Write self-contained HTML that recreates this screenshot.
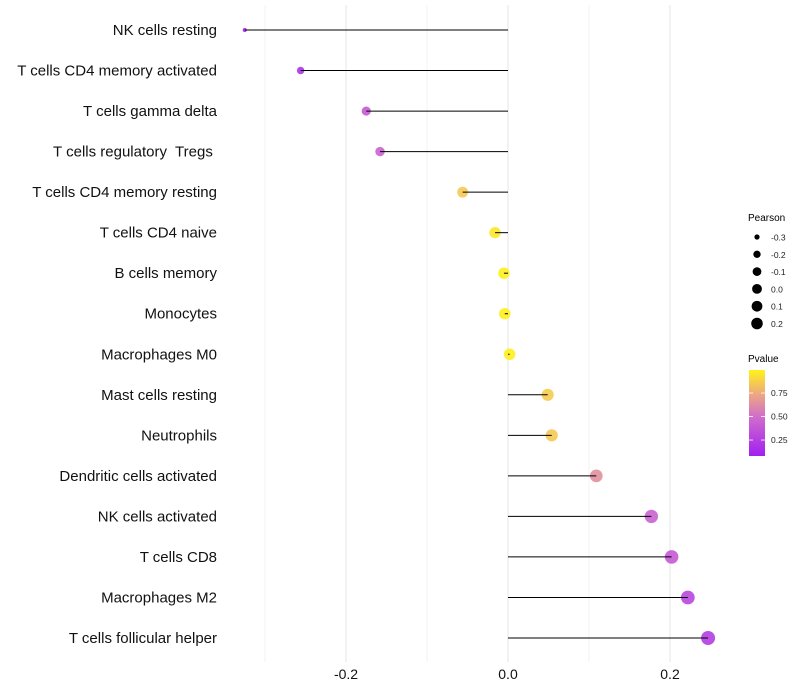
<!DOCTYPE html>
<html><head><meta charset="utf-8"><style>
html,body{margin:0;padding:0;background:#fff;}
svg{display:block;font-family:"Liberation Sans",sans-serif;}
text{white-space:pre;}
</style></head><body>
<svg id="chart" width="800" height="700">
<defs>
<linearGradient id="pg" x1="0" y1="1" x2="0" y2="0">
<stop offset="0" stop-color="#a21ff0"/>
<stop offset="0.45" stop-color="#d06ccc"/>
<stop offset="0.72" stop-color="#eda880"/>
<stop offset="1" stop-color="#fff318"/>
</linearGradient>
</defs>
</svg>
<script>
const categories=["NK cells resting","T cells CD4 memory activated","T cells gamma delta","T cells regulatory  Tregs ","T cells CD4 memory resting","T cells CD4 naive","B cells memory","Monocytes","Macrophages M0","Mast cells resting","Neutrophils","Dendritic cells activated","NK cells activated","T cells CD8","Macrophages M2","T cells follicular helper"];
const pearson=[-0.325,-0.256,-0.175,-0.158,-0.056,-0.016,-0.005,-0.004,0.002,0.049,0.054,0.109,0.177,0.202,0.222,0.247];
const pvalue=[0.1,0.2,0.4,0.45,0.86,0.96,0.99,0.99,0.99,0.87,0.86,0.65,0.45,0.4,0.3,0.25];
const xTicks=[-0.2,0.0,0.2];
const sizeLegend=[-0.3,-0.2,-0.1,0.0,0.1,0.2];
const pTicks=[0.75,0.5,0.25];

const svg=document.getElementById('chart');
const NS='http://www.w3.org/2000/svg';
function el(t,a,p){const e=document.createElementNS(NS,t);for(const k in a)e.setAttribute(k,a[k]);(p||svg).appendChild(e);return e;}
const xS=v=>508+v*810;
const yS=i=>30+i*(608/15);
const rS=v=>2+5*Math.sqrt(Math.max(0,(v+0.325)/0.572));
function col(p){
 const stops=[[0.09,[162,31,240]],[0.5,[208,108,204]],[0.75,[237,168,128]],[1.0,[255,243,24]]];
 if(p<=stops[0][0])return 'rgb('+stops[0][1]+')';
 for(let i=1;i<stops.length;i++){if(p<=stops[i][0]){const t=(p-stops[i-1][0])/(stops[i][0]-stops[i-1][0]);const a=stops[i-1][1],b=stops[i][1];return 'rgb('+a.map((c,j)=>Math.round(c+(b[j]-c)*t)).join(',')+')';}}
 return 'rgb(255,243,24)';
}
[-0.3,-0.1,0.1].forEach(v=>{const g=el('line',{x1:xS(v),x2:xS(v),y1:5,y2:662,stroke:'#f3f3f3','stroke-width':1});

});
xTicks.forEach(v=>{const g=el('line',{x1:xS(v),x2:xS(v),y1:5,y2:662,stroke:'#ebebeb','stroke-width':1.3});


const t=el('text',{x:xS(v),y:679,'text-anchor':'middle','font-size':14,fill:'#111'});t.textContent=v.toFixed(1);

});
categories.forEach((c,i)=>{
 const y=yS(i);
 const t=el('text',{x:217,y:y+5,'text-anchor':'end','font-size':15,fill:'#111'});t.textContent=c;
 
 
 const ci=el('circle',{cx:xS(pearson[i]),cy:y,r:rS(pearson[i]),fill:col(pvalue[i]),'fill-opacity':0.9});
 
 
 const l=el('line',{x1:xS(0),x2:xS(pearson[i]),y1:y,y2:y,stroke:'#000','stroke-width':1});
 
 
});
const lt=el('text',{x:748,y:221,'font-size':10,fill:'#000'});lt.textContent='Pearson';


sizeLegend.forEach((v,i)=>{const y=237+i*17.3;
 const c=el('circle',{cx:757,cy:y,r:rS(v)*0.85,fill:'#000'});
 
 
 const t=el('text',{x:771,y:y+3.5,'font-size':8.5,fill:'#222'});t.textContent=v.toFixed(1);
 
 });
const pt=el('text',{x:748,y:362,'font-size':10,fill:'#000'});pt.textContent='Pvalue';


const cb=el('rect',{x:749,y:370,width:16,height:86,fill:'url(#pg)'});


pTicks.forEach(p=>{const y=370+(0.995-p)*94;
 el('line',{x1:749,x2:753,y1:y,y2:y,stroke:'#fff','stroke-width':0.8});
 el('line',{x1:761,x2:765,y1:y,y2:y,stroke:'#fff','stroke-width':0.8});
 const t=el('text',{x:771,y:y+3,'font-size':8.5,fill:'#222'});t.textContent=p.toFixed(2);
 
 });
</script>
</body></html>
